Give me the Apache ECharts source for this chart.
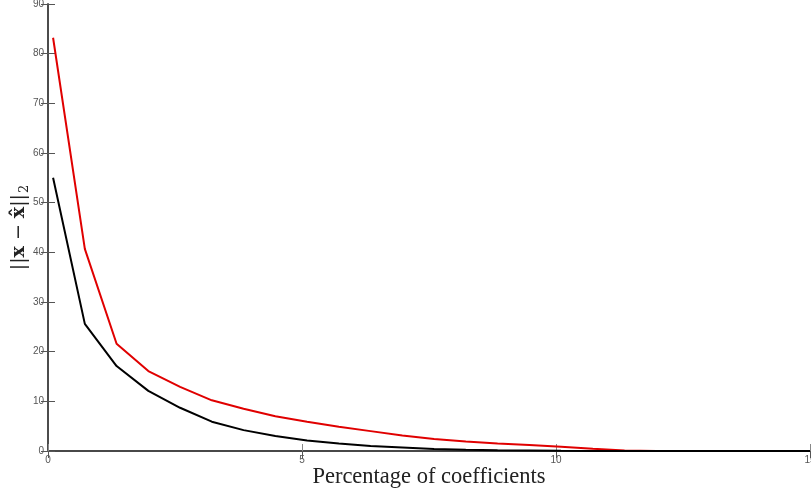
<!DOCTYPE html>
<html>
<head>
<meta charset="utf-8">
<script src="https://cdn.jsdelivr.net/npm/echarts@6/dist/echarts.min.js"></script>
<style>html,body{margin:0;padding:0;background:#fff}#c{width:811px;height:494px}</style>
</head>
<body>
<div id="c"></div>
<script>
var xValues = [0.1, 0.725, 1.35, 1.975, 2.6, 3.225, 3.85, 4.475, 5.1, 5.725, 6.35, 6.975, 7.6, 8.225, 8.85, 9.475, 10.1, 10.725, 11.35, 11.975, 12.6, 13.225, 13.85, 14.475, 15];
var redValues = [83.2, 40.7, 21.6, 16.1, 12.9, 10.2, 8.5, 7.0, 5.9, 4.9, 4.0, 3.1, 2.4, 1.9, 1.5, 1.2, 0.85, 0.45, 0.12, 0, 0, 0, 0, 0, 0];
var blackValues = [55.0, 25.6, 17.1, 12.1, 8.7, 5.9, 4.2, 3.0, 2.1, 1.5, 1.0, 0.7, 0.4, 0.25, 0.15, 0.1, 0.05, 0.02, 0, 0, 0, 0, 0, 0, 0];
var xTicks = [0, 5, 10, 15];
var yTicks = [0, 10, 20, 30, 40, 50, 60, 70, 80, 90];
var xTitle = 'Percentage of coefficients';

function pairs(xs, ys) { return xs.map(function (x, i) { return [x, ys[i]]; }); }

var chart = echarts.init(document.getElementById('c'), null, { renderer: 'canvas' });
var labelStyle = { color: '#555', fontSize: 10, fontFamily: 'Liberation Sans, Arial, sans-serif' };
var serif = 'Liberation Serif, Times New Roman, serif';
chart.setOption({
  animation: false,
  backgroundColor: '#fff',
  grid: { left: 48, right: 1, top: 4, bottom: 43, containLabel: false, outerBoundsMode: 'none' },
  xAxis: [{
    type: 'value', min: xTicks[0], max: xTicks[xTicks.length - 1], interval: 5,
    axisLine: { show: true, lineStyle: { color: '#888', width: 2 } },
    axisTick: { show: true, inside: true, length: 7, lineStyle: { color: '#888' } },
    axisLabel: Object.assign({ margin: 4 }, labelStyle, { showMaxLabel: true, hideOverlap: false }),
    splitLine: { show: false },
    name: xTitle, nameLocation: 'middle', nameGap: 15, nameMoveOverlap: false,
    nameTextStyle: { fontFamily: serif, fontSize: 22.5, color: '#222', verticalAlign: 'top', lineHeight: 22 }
  }, {
    type: 'value', position: 'top', min: 0, max: 15, interval: 5,
    axisLine: { show: true, lineStyle: { color: '#333', width: 1.5 } },
    axisTick: { show: true, inside: true, length: 7, lineStyle: { color: '#555' } },
    axisLabel: { show: false }, splitLine: { show: false }
  }],
  yAxis: [{
    type: 'value', min: yTicks[0], max: yTicks[yTicks.length - 1], interval: 10,
    axisLine: { show: true, lineStyle: { color: '#999', width: 2 } },
    axisTick: { show: true, inside: true, length: 7, lineStyle: { color: '#555' } },
    axisLabel: Object.assign({ margin: 4 }, labelStyle),
    splitLine: { show: false },
    name: '{n|||}{b|x}{n| − }{b|x̂}{n|||}{s|2}',
    nameLocation: 'middle', nameGap: 17, nameRotate: 90, nameMoveOverlap: false,
    nameTextStyle: {
      color: '#222',
      rich: {
        n: { fontFamily: 'DejaVu Serif, Liberation Serif, serif', fontSize: 19, color: '#222' },
        b: { fontFamily: 'DejaVu Serif, Liberation Serif, serif', fontSize: 19, fontWeight: 'bold', color: '#222' },
        s: { fontFamily: 'DejaVu Serif, Liberation Serif, serif', fontSize: 13, color: '#222', padding: [10, 0, 0, 1] }
      }
    }
  }, {
    type: 'value', position: 'right', min: 0, max: 90, interval: 10,
    axisLine: { show: true, lineStyle: { color: '#333', width: 1.5 } },
    axisTick: { show: true, inside: true, length: 7, lineStyle: { color: '#555' } },
    axisLabel: { show: false }, splitLine: { show: false }
  }],
  series: [{
    type: 'line', data: pairs(xValues, redValues), symbol: 'none',
    lineStyle: { color: '#e00000', width: 2 }, z: 3
  }, {
    type: 'line', data: pairs(xValues, blackValues), symbol: 'none',
    lineStyle: { color: '#000', width: 2 }, z: 4
  }]
});
</script>
</body>
</html>
